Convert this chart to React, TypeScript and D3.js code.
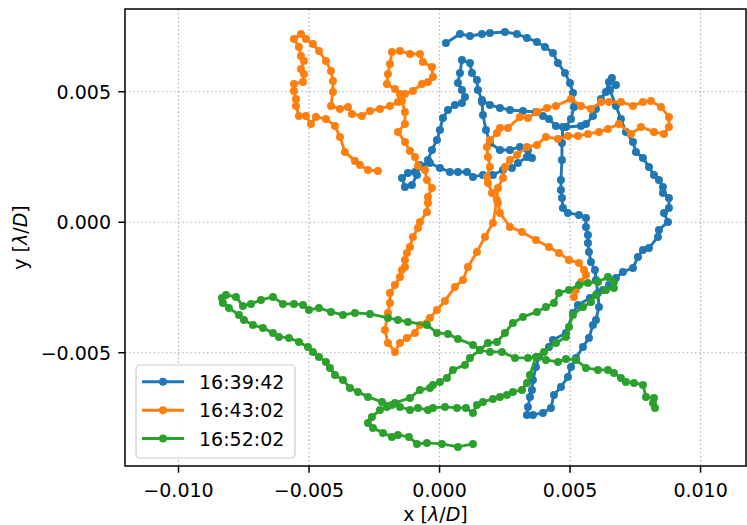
import React from "react";
import * as d3 from "d3";

// values in units of 1e-3 λ/D
const UNIT = 1e-3;
const seriesNames = ["16:39:42", "16:43:02", "16:52:02"];
const seriesColors = ["#1f77b4", "#ff7f0e", "#2ca02c"];

const blueX = [0.245,0.782,1.165,1.624,1.931,2.505,2.965,3.348,3.731,4.038,
4.344,4.536,4.804,4.996,5.111,5.149,5.034,4.842,5.417,5.609,
5.877,5.992,6.183,6.375,6.490,6.605,6.758,6.528,6.758,6.949,
7.141,7.409,7.524,7.792,8.022,8.214,8.405,8.559,8.559,8.788,
8.788,8.597,8.750,8.405,8.367,8.022,7.792,7.601,7.409,7.026,
6.758,6.490,6.260,5.762,5.302,5.111,4.842,4.344,4.191,3.808,
3.693,3.578,3.540,3.463,3.387,3.348,3.578,3.961,4.268,4.383,
4.651,4.919,5.034,5.225,5.494,5.724,5.877,5.992,6.107,6.068,
5.992,5.953,5.800,5.724,5.685,5.685,5.609,5.609,5.340,4.919,
4.727,4.689,4.651,4.651,4.689,4.689,4.727,4.459,4.191,3.961,
3.693,3.195,2.697,2.314,1.931,1.624,1.471,1.433,1.241,1.165,
0.858,0.782,0.705,0.858,0.973,0.858,0.590,0.322,0.130,0.015,
-0.100,-0.291,-0.444,-0.636,-0.942,-1.211,-1.440,-1.326,-1.057,-0.866,
-0.751,-0.368,0.015,0.398,0.705,1.050,1.280,1.663,2.046,2.429,
2.774,3.004,3.348,3.540,3.387,3.080,2.697,2.314,1.931,1.778,
1.663,1.624];
const blueY = [6.869,7.214,7.137,7.214,7.252,7.290,7.214,7.061,6.907,6.716,
6.486,6.103,5.720,5.337,4.953,4.417,3.957,3.651,3.689,3.766,
4.072,4.341,4.724,4.992,5.375,5.528,5.260,5.068,4.455,3.957,
3.459,3.076,2.693,2.463,2.119,1.812,1.621,1.352,1.122,0.931,
0.548,0.356,0.011,-0.295,-0.563,-0.985,-1.061,-1.329,-1.751,-1.904,
-2.134,-2.402,-2.594,-2.900,-3.168,-3.475,-4.241,-4.509,-4.777,-5.160,
-5.543,-6.042,-6.425,-6.693,-7.076,-7.382,-7.382,-7.306,-7.114,-6.616,
-6.310,-5.927,-5.543,-5.199,-4.777,-4.432,-3.934,-3.743,-3.245,-2.709,
-2.210,-1.827,-1.521,-1.138,-0.793,-0.487,-0.180,0.165,0.280,0.356,
0.548,0.931,1.237,1.621,2.387,3.038,3.651,3.689,3.957,4.072,
4.226,4.264,4.302,4.379,4.494,4.685,5.068,5.451,5.720,6.103,
6.218,5.720,5.337,5.068,4.800,4.570,4.494,4.302,3.996,3.536,
3.153,2.770,2.387,2.119,1.927,1.889,1.697,1.352,1.429,1.812,
2.195,2.272,2.080,1.927,1.927,1.927,1.735,1.812,1.812,2.004,
2.080,2.272,2.502,2.463,2.770,2.885,2.770,2.770,3.038,3.536,
4.111,4.609];

const orangeX = [-2.360,-2.743,-3.049,-3.241,-3.624,-3.816,-4.007,-4.352,-4.735,-4.927,
-5.118,-5.386,-5.501,-5.501,-5.578,-5.578,-5.233,-5.195,-5.310,-5.195,
-5.310,-5.386,-5.578,-5.310,-5.118,-4.850,-4.620,-4.352,-4.160,-4.084,
-4.084,-4.160,-3.816,-3.509,-3.356,-2.973,-2.666,-2.283,-1.900,-1.594,
-1.517,-1.709,-2.015,-1.977,-1.900,-1.824,-1.517,-1.134,-0.751,-0.636,
-0.291,-0.253,-0.444,-0.674,-1.019,-1.326,-1.440,-1.326,-1.326,-1.594,
-1.326,-1.134,-0.942,-0.827,-0.559,-0.483,-0.291,-0.444,-0.444,-0.483,
-0.751,-0.827,-1.019,-1.134,-1.249,-1.326,-1.326,-1.440,-1.517,-1.709,
-1.900,-1.900,-1.977,-2.092,-1.977,-1.709,-1.517,-1.249,-0.942,-0.751,
-0.368,-0.100,0.207,0.590,0.896,1.088,1.433,1.739,2.046,2.199,
2.237,2.429,2.505,2.697,2.965,3.348,3.731,4.076,4.536,4.919,
5.302,5.685,6.107,6.451,6.873,7.333,7.716,8.214,8.597,8.788,
8.788,8.482,8.099,7.792,7.409,6.949,6.490,6.183,5.800,5.417,
5.034,4.459,4.115,3.731,3.387,3.080,2.620,2.314,2.199,1.931,
1.816,1.854,1.931,1.816,1.854,2.007,2.237,2.314,2.697,3.157,
3.693,4.191,4.574,4.957,5.340,5.532,5.609,5.417,5.225,5.149];
const orangeY = [1.965,2.004,2.195,2.348,2.693,3.268,3.689,3.957,4.034,3.766,
4.072,4.072,4.455,4.724,5.030,5.298,5.375,5.681,5.873,6.179,
6.371,6.716,7.022,7.214,7.022,6.831,6.563,6.179,5.796,5.413,
4.992,4.455,4.341,4.417,4.149,4.072,4.264,4.341,4.455,4.609,
4.915,5.107,5.298,5.681,6.065,6.524,6.563,6.448,6.448,6.141,
5.949,5.566,5.375,5.298,5.030,4.915,4.647,4.226,3.766,3.459,
3.076,2.732,2.502,2.157,2.004,1.621,1.314,0.969,0.739,0.395,
0.011,-0.218,-0.563,-0.946,-1.176,-1.444,-1.712,-1.827,-2.096,-2.402,
-2.709,-3.092,-3.475,-4.126,-4.624,-4.969,-4.624,-4.432,-4.241,-3.934,
-3.666,-3.360,-3.015,-2.479,-2.210,-1.712,-1.138,-0.563,-0.027,0.854,
1.314,1.697,2.119,2.387,2.578,2.885,2.961,3.268,3.191,3.306,
3.306,3.383,3.459,3.574,3.766,3.383,3.651,3.459,3.383,3.651,
4.034,4.417,4.647,4.609,4.455,4.609,4.609,4.609,4.341,4.455,
4.724,4.455,4.379,4.226,3.996,4.034,3.613,3.613,3.421,3.153,
2.885,2.502,2.119,1.735,1.506,1.122,0.739,0.356,-0.180,-0.372,
-0.678,-0.946,-1.176,-1.444,-1.559,-1.827,-2.019,-2.287,-2.594,-2.862];

const greenX = [1.280,0.705,0.092,-0.483,-0.866,-1.172,-1.594,-1.824,-2.168,-2.551,
-2.743,-2.590,-2.283,-2.015,-1.709,-1.134,-0.751,-0.368,-0.253,0.015,
0.283,0.513,0.973,1.165,1.548,1.854,2.199,2.505,2.812,3.195,
3.731,4.076,4.383,4.574,4.957,5.340,5.685,6.068,6.451,6.681,
6.681,6.375,5.992,5.800,5.494,5.111,4.957,4.842,4.459,4.000,
3.693,3.463,3.348,3.157,2.812,2.582,2.314,2.046,1.663,1.433,
1.280,1.011,0.667,0.207,-0.253,-0.444,-0.827,-1.134,-1.517,-1.824,
-2.207,-2.743,-3.126,-3.433,-3.701,-4.007,-4.199,-4.352,-4.620,-4.850,
-5.042,-5.386,-5.769,-6.153,-6.382,-6.766,-7.149,-7.493,-7.685,-8.068,
-8.298,-8.336,-8.183,-7.800,-7.532,-7.225,-6.842,-6.382,-6.000,-5.578,
-5.233,-5.003,-4.620,-4.160,-3.701,-3.241,-2.666,-1.977,-1.594,-1.211,
-0.483,-0.100,0.322,0.705,1.280,1.548,1.931,2.391,2.889,3.387,
3.770,4.076,4.536,4.842,5.225,5.609,6.068,6.451,6.681,6.949,
7.141,7.448,7.792,7.908,8.214,8.176,8.253];
const greenY = [-8.493,-8.608,-8.493,-8.455,-8.493,-8.225,-8.149,-8.225,-8.072,-7.880,
-7.689,-7.459,-7.191,-7.076,-6.923,-6.731,-6.425,-6.348,-6.233,-6.118,
-5.965,-5.658,-5.467,-5.199,-4.892,-4.624,-4.586,-4.241,-3.858,-3.628,
-3.436,-3.245,-3.092,-2.709,-2.594,-2.402,-2.325,-2.287,-2.096,-2.287,
-2.517,-2.594,-2.785,-3.053,-3.245,-3.551,-4.011,-4.394,-4.624,-4.969,
-5.160,-5.850,-6.157,-6.425,-6.501,-6.616,-6.693,-6.770,-6.884,-6.999,
-7.306,-7.114,-7.114,-7.076,-7.114,-7.191,-7.114,-7.191,-7.076,-6.999,
-6.884,-6.693,-6.501,-6.348,-6.042,-5.850,-5.582,-5.352,-5.160,-4.969,
-4.777,-4.586,-4.432,-4.394,-4.241,-4.049,-3.934,-3.743,-3.551,-3.283,
-3.092,-2.900,-2.785,-2.862,-3.207,-3.130,-2.977,-2.862,-3.130,-3.130,
-3.168,-3.360,-3.283,-3.436,-3.551,-3.475,-3.513,-3.666,-3.743,-3.819,
-3.934,-4.241,-4.279,-4.471,-4.701,-4.892,-4.969,-4.969,-5.199,-5.199,
-5.160,-5.276,-5.352,-5.237,-5.276,-5.582,-5.658,-5.658,-5.773,-5.965,
-6.118,-6.157,-6.233,-6.693,-6.731,-6.923,-7.114];

const xTicks = [-0.01, -0.005, 0, 0.005, 0.01];
const xTickLabels = ["\u22120.010", "\u22120.005", "0.000", "0.005", "0.010"];
const yTicks = [-0.005, 0, 0.005];
const yTickLabels = ["\u22120.005", "0.000", "0.005"];

const W = 747, H = 525;
const PL = 125, PR = 746, PT = 9, PB = 466;
const FONT = "DejaVu Sans, sans-serif";
const FS = 19;

export default function App() {
  const x = d3.scaleLinear().domain([-0.01205, 0.01174]).range([PL, PR]);
  const y = d3.scaleLinear().domain([-0.00934, 0.00817]).range([PB, PT]);
  const series = [
    { xs: blueX, ys: blueY },
    { xs: orangeX, ys: orangeY },
    { xs: greenX, ys: greenY },
  ].map((s, i) => ({
    name: seriesNames[i],
    color: seriesColors[i],
    pts: s.xs.slice(0, Math.min(s.xs.length, s.ys.length)).map((v, j) => [v * UNIT, s.ys[j] * UNIT] as [number, number]),
  }));
  const line = d3.line<[number, number]>().x((d) => x(d[0])).y((d) => y(d[1]));
  const legX = 136, legY = 365, legW = 159, legH = 93;
  const rowY = [381.7, 410.3, 438.5];
  return (
    <svg width={W} height={H} style={{ position: "absolute", left: 0, top: 0, background: "#fff" }} fontFamily={FONT}>
      <rect x={0} y={0} width={W} height={H} fill="#fff" />
      <defs>
        <clipPath id="plotclip">
          <rect x={PL} y={PT} width={PR - PL} height={PB - PT} />
        </clipPath>
      </defs>
      {/* grid */}
      <g stroke="#b0b0b0" strokeWidth={1.2} strokeDasharray="1.5,2.6">
        {xTicks.map((t, i) => (
          <line key={"gx" + i} x1={x(t)} x2={x(t)} y1={PT} y2={PB} />
        ))}
        {yTicks.map((t, i) => (
          <line key={"gy" + i} x1={PL} x2={PR} y1={y(t)} y2={y(t)} />
        ))}
      </g>
      {/* series */}
      <g clipPath="url(#plotclip)">
        {series.map((s, i) => (
          <g key={"s" + i}>
            <path d={line(s.pts) || ""} fill="none" stroke={s.color} strokeWidth={2.9} strokeLinejoin="round" strokeLinecap="round" />
            {s.pts.map((p, j) => (
              <circle key={j} cx={x(p[0])} cy={y(p[1])} r={4} fill={s.color} />
            ))}
          </g>
        ))}
      </g>
      {/* spines */}
      <rect x={PL} y={PT} width={PR - PL} height={PB - PT} fill="none" stroke="#000" strokeWidth={1.5} />
      {/* x ticks */}
      {xTicks.map((t, i) => (
        <g key={"xt" + i}>
          <line x1={x(t)} x2={x(t)} y1={PB} y2={PB + 6.7} stroke="#000" strokeWidth={1.5} />
          <text x={x(t)} y={497} textAnchor="middle" fontSize={FS} fill="#000">{xTickLabels[i]}</text>
        </g>
      ))}
      {yTicks.map((t, i) => (
        <g key={"yt" + i}>
          <line x1={PL - 6.7} x2={PL} y1={y(t)} y2={y(t)} stroke="#000" strokeWidth={1.5} />
          <text x={111} y={y(t) + 7} textAnchor="end" fontSize={FS} fill="#000">{yTickLabels[i]}</text>
        </g>
      ))}
      <text x={(PL + PR) / 2} y={521} textAnchor="middle" fontSize={FS} fill="#000">
        x [<tspan fontStyle="italic">λ</tspan>/<tspan fontStyle="italic">D</tspan>]
      </text>
      <text transform={`translate(27,${(PT + PB) / 2}) rotate(-90)`} textAnchor="middle" fontSize={FS} fill="#000">
        y [<tspan fontStyle="italic">λ</tspan>/<tspan fontStyle="italic">D</tspan>]
      </text>
      {/* legend */}
      <rect x={legX} y={legY} width={legW} height={legH} rx={4} fill="#fff" fillOpacity={0.8} stroke="#cccccc" strokeWidth={1.2} />
      {series.map((s, i) => (
        <g key={"lg" + i}>
          <line x1={142} x2={184} y1={rowY[i]} y2={rowY[i]} stroke={s.color} strokeWidth={2.9} />
          <circle cx={163} cy={rowY[i]} r={4} fill={s.color} />
          <text x={199} y={rowY[i] + 7} fontSize={FS} fill="#000">{s.name}</text>
        </g>
      ))}
    </svg>
  );
}
